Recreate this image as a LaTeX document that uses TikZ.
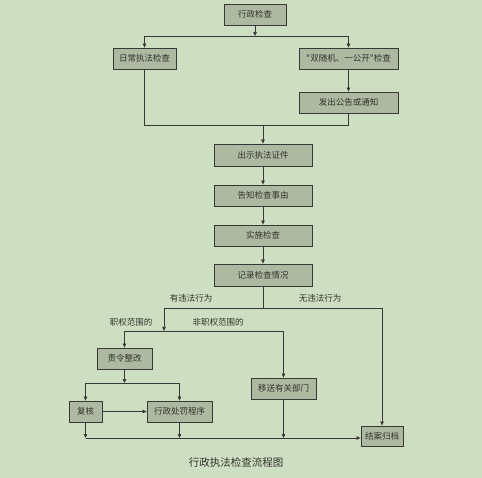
\documentclass[tikz,border=0pt]{standalone}
\usepackage{fontspec}
\newfontfamily\cjk{Noto Sans CJK SC}
\usetikzlibrary{arrows.meta,shadows}
\definecolor{bgc}{HTML}{CEDEC2}
\definecolor{boxc}{HTML}{ADB9A0}
\definecolor{linec}{HTML}{383834}
\definecolor{textc}{HTML}{33332C}
\begin{document}
\begin{tikzpicture}[x=1pt,y=-1pt,
  box/.style={draw=linec,line width=0.8pt,fill=boxc,text=textc,inner sep=0pt,
    font=\cjk\fontsize{8.5}{10}\selectfont,
    general shadow={shadow xshift=0.7pt,shadow yshift=-0.7pt,fill=linec}},
  conn/.style={draw=linec,line width=0.7pt},
  arr/.style={conn,-{Triangle[length=4pt,width=3.5pt]}},
  lbl/.style={text=textc,font=\cjk\fontsize{8.5}{10}\selectfont,inner sep=0pt}]
\fill[bgc] (0,0) rectangle (482,478);
\useasboundingbox (0,0) rectangle (482,478);
% boxes
\node[box,minimum width=62pt,minimum height=21pt] (a) at (255,14.5) {行政检查};
\node[box,minimum width=63pt,minimum height=21pt] (b) at (144.5,58.5) {日常执法检查};
\node[box,minimum width=99pt,minimum height=21pt] (c) at (348.5,58.5) {"双随机、一公开"检查};
\node[box,minimum width=99pt,minimum height=21pt] (d) at (348.5,102.5) {发出公告或通知};
\node[box,minimum width=98pt,minimum height=22pt] (e) at (263,155) {出示执法证件};
\node[box,minimum width=98pt,minimum height=21pt] (f) at (263,195.5) {告知检查事由};
\node[box,minimum width=98pt,minimum height=21pt] (g) at (263,235.5) {实施检查};
\node[box,minimum width=98pt,minimum height=22pt] (h) at (263,275) {记录检查情况};
\node[box,minimum width=55pt,minimum height=21pt] (i) at (124.5,358.5) {责令整改};
\node[box,minimum width=33pt,minimum height=21pt] (j) at (85.5,411.5) {复核};
\node[box,minimum width=65pt,minimum height=21pt] (k) at (179.5,411.5) {行政处罚程序};
\node[box,minimum width=65pt,minimum height=21pt] (l) at (283.5,388.5) {移送有关部门};
\node[box,minimum width=42pt,minimum height=20pt] (m) at (382,436) {结案归档};
% coordinates
\coordinate (j1) at (255,36);
\coordinate (j1l) at (144.5,36);
\coordinate (j1r) at (348.5,36);
\coordinate (j2l) at (144.5,125);
\coordinate (j2r) at (348.5,125);
\coordinate (j2) at (263,125);
\coordinate (j3) at (263,308);
\coordinate (j3l) at (164,308);
\coordinate (j3r) at (382,308);
\coordinate (j4) at (164,331);
\coordinate (j4l) at (124.5,331);
\coordinate (j4r) at (283.5,331);
\coordinate (j5) at (124.5,383);
\coordinate (j5l) at (85.5,383);
\coordinate (j5r) at (179.5,383);
\coordinate (b1) at (85.5,438);
\coordinate (b2) at (179.5,438);
\coordinate (b3) at (283.5,438);
% connectors
\draw[arr] (a.south) -- (j1);
\draw[conn] (j1l) -- (j1r);
\draw[arr] (j1l) -- (b.north);
\draw[arr] (j1r) -- (c.north);
\draw[arr] (c.south) -- (d.north);
\draw[conn] (b.south) -- (j2l) -- (j2r) -- (d.south);
\draw[arr] (j2) -- (e.north);
\draw[arr] (e.south) -- (f.north);
\draw[arr] (f.south) -- (g.north);
\draw[arr] (g.south) -- (h.north);
\draw[conn] (h.south) -- (j3);
\draw[conn] (j3l) -- (j3r);
\draw[arr] (j3l) -- (j4);
\draw[arr] (j3r) -- (m.north);
\draw[conn] (j4l) -- (j4r);
\draw[arr] (j4l) -- (i.north);
\draw[arr] (j4r) -- (l.north);
\draw[arr] (i.south) -- (j5);
\draw[conn] (j5l) -- (j5r);
\draw[arr] (j5l) -- (j.north);
\draw[arr] (j5r) -- (k.north);
\draw[arr] (j.east) -- (k.west);
\draw[arr] (j.south) -- (b1);
\draw[arr] (k.south) -- (b2);
\draw[arr] (l.south) -- (b3);
\draw[arr] (b1) -- (m.west |- b1);
% labels
\node[lbl] (t1) at (191,298) {有违法行为};
\node[lbl] (t2) at (320,298) {无违法行为};
\node[lbl] (t3) at (131,322) {职权范围的};
\node[lbl] (t4) at (218,322) {非职权范围的};
\node[lbl,font=\cjk\fontsize{10.5}{12}\selectfont] (cap) at (236,462) {行政执法检查流程图};
\end{tikzpicture}
\end{document}
